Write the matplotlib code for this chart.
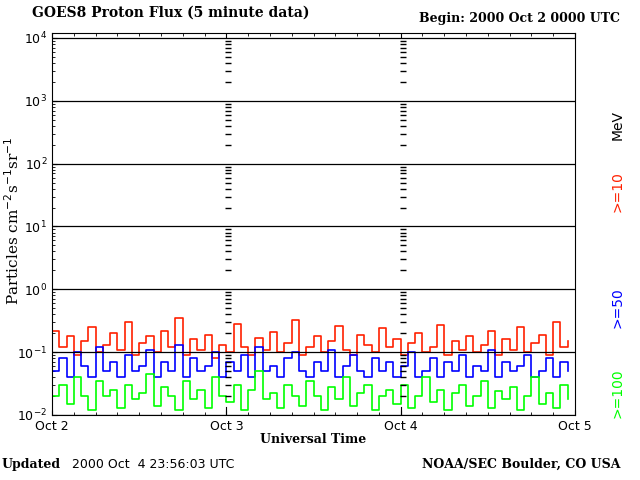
import matplotlib.pyplot as plt
import numpy as np

# hourly flux estimates (pfu), Oct 2 00 UT .. Oct 4 23 UT
p10 = [0.22, 0.12, 0.18, 0.09, 0.15, 0.25, 0.10, 0.13, 0.20, 0.11, 0.30, 0.09,
       0.14, 0.18, 0.10, 0.22, 0.12, 0.35, 0.09, 0.16, 0.11, 0.19, 0.08, 0.13,
       0.10, 0.28, 0.12, 0.09, 0.17, 0.11, 0.21, 0.10, 0.14, 0.33, 0.09, 0.12,
       0.18, 0.10, 0.15, 0.26, 0.11, 0.09, 0.19, 0.13, 0.10, 0.24, 0.12, 0.16,
       0.09, 0.14, 0.20, 0.10, 0.12, 0.27, 0.09, 0.15, 0.11, 0.18, 0.10, 0.13,
       0.22, 0.09, 0.16, 0.11, 0.25, 0.10, 0.14, 0.19, 0.09, 0.30, 0.12, 0.15]
p50 = [0.05, 0.08, 0.04, 0.10, 0.06, 0.04, 0.12, 0.05, 0.07, 0.04, 0.09, 0.05,
       0.06, 0.11, 0.04, 0.07, 0.05, 0.13, 0.04, 0.08, 0.05, 0.06, 0.10, 0.04,
       0.07, 0.05, 0.09, 0.04, 0.12, 0.05, 0.06, 0.04, 0.08, 0.10, 0.05, 0.04,
       0.07, 0.05, 0.11, 0.04, 0.06, 0.09, 0.05, 0.04, 0.08, 0.05, 0.07, 0.04,
       0.06, 0.10, 0.04, 0.05, 0.08, 0.04, 0.07, 0.05, 0.09, 0.04, 0.06, 0.05,
       0.11, 0.04, 0.07, 0.05, 0.06, 0.09, 0.04, 0.05, 0.08, 0.04, 0.07, 0.05]
p100 = [0.02, 0.03, 0.015, 0.04, 0.02, 0.012, 0.035, 0.02, 0.025, 0.013, 0.03, 0.018,
        0.022, 0.045, 0.014, 0.028, 0.02, 0.012, 0.035, 0.018, 0.025, 0.013, 0.04, 0.02,
        0.016, 0.03, 0.012, 0.025, 0.05, 0.018, 0.022, 0.013, 0.03, 0.02, 0.014, 0.035,
        0.02, 0.012, 0.028, 0.018, 0.04, 0.014, 0.022, 0.03, 0.012, 0.02, 0.025, 0.015,
        0.03, 0.013, 0.02, 0.04, 0.016, 0.025, 0.012, 0.022, 0.03, 0.014, 0.02, 0.035,
        0.013, 0.024, 0.018, 0.028, 0.012, 0.02, 0.04, 0.015, 0.022, 0.013, 0.03, 0.018]
day_labels = ['Oct 2', 'Oct 3', 'Oct 4', 'Oct 5']

t = np.arange(len(p10)) / 24.0

fig = plt.figure(figsize=(6.4, 4.8), dpi=100)
ax = fig.add_axes([52/640, 65/480, 523/640, 382/480])
ser = {'family': 'DejaVu Serif', 'weight': 'bold'}

ax.step(t, p10, where='post', color='#ff2000', lw=1.2)
ax.step(t, p50, where='post', color='#0000ff', lw=1.2)
ax.step(t, p100, where='post', color='#00ff00', lw=1.2)

ax.set_yscale('log')
ax.set_ylim(0.01, 1.2e4)
ax.set_xlim(0, 3)
for d in range(-2, 5):
    ax.axhline(10.0 ** d, color='black', lw=0.9)
minors = [m * 10.0 ** d for d in range(-2, 4) for m in range(2, 10)]
for x in (1, 2):
    ax.axvline(x, ymin=0, ymax=0.02, color='black', lw=0.8)
    ax.plot([x + 0.012] * len(minors), minors, ls='none', marker='_', ms=5,
            color='black', mew=1.0)

ax.set_xticks(range(4))
ax.set_xticklabels(day_labels, fontsize=9)
ax.set_xticks(np.arange(0, 3, 1 / 8), minor=True)
ax.tick_params(which='both', direction='in', top=True, right=False)
ax.tick_params(axis='y', labelsize=9)
ax.set_xlabel('Universal Time', fontsize=9, labelpad=0, **ser)
fig.text(0.019, 0.54, r'Particles cm$^{-2}$s$^{-1}$sr$^{-1}$', fontsize=11,
         family='DejaVu Serif', rotation=90, ha='center', va='center')

fig.text(0.05, 0.965, 'GOES8 Proton Flux (5 minute data)', fontsize=10, **ser)
fig.text(0.655, 0.955, 'Begin: 2000 Oct 2 0000 UTC', fontsize=9, **ser)
fig.text(0.003, 0.025, 'Updated', fontsize=9, **ser)
fig.text(0.112, 0.025, '2000 Oct  4 23:56:03 UTC', fontsize=9)
fig.text(0.66, 0.025, 'NOAA/SEC Boulder, CO USA', fontsize=9, **ser)

fig.text(0.965, 0.74, 'MeV', rotation=90, fontsize=10, color='black', ha='center', va='center')
fig.text(0.965, 0.60, '>=10', rotation=90, fontsize=10, color='#ff2000', ha='center', va='center')
fig.text(0.965, 0.36, '>=50', rotation=90, fontsize=10, color='#0000ff', ha='center', va='center')
fig.text(0.965, 0.18, '>=100', rotation=90, fontsize=10, color='#00ff00', ha='center', va='center')

fig.savefig('out.png', dpi=100)
